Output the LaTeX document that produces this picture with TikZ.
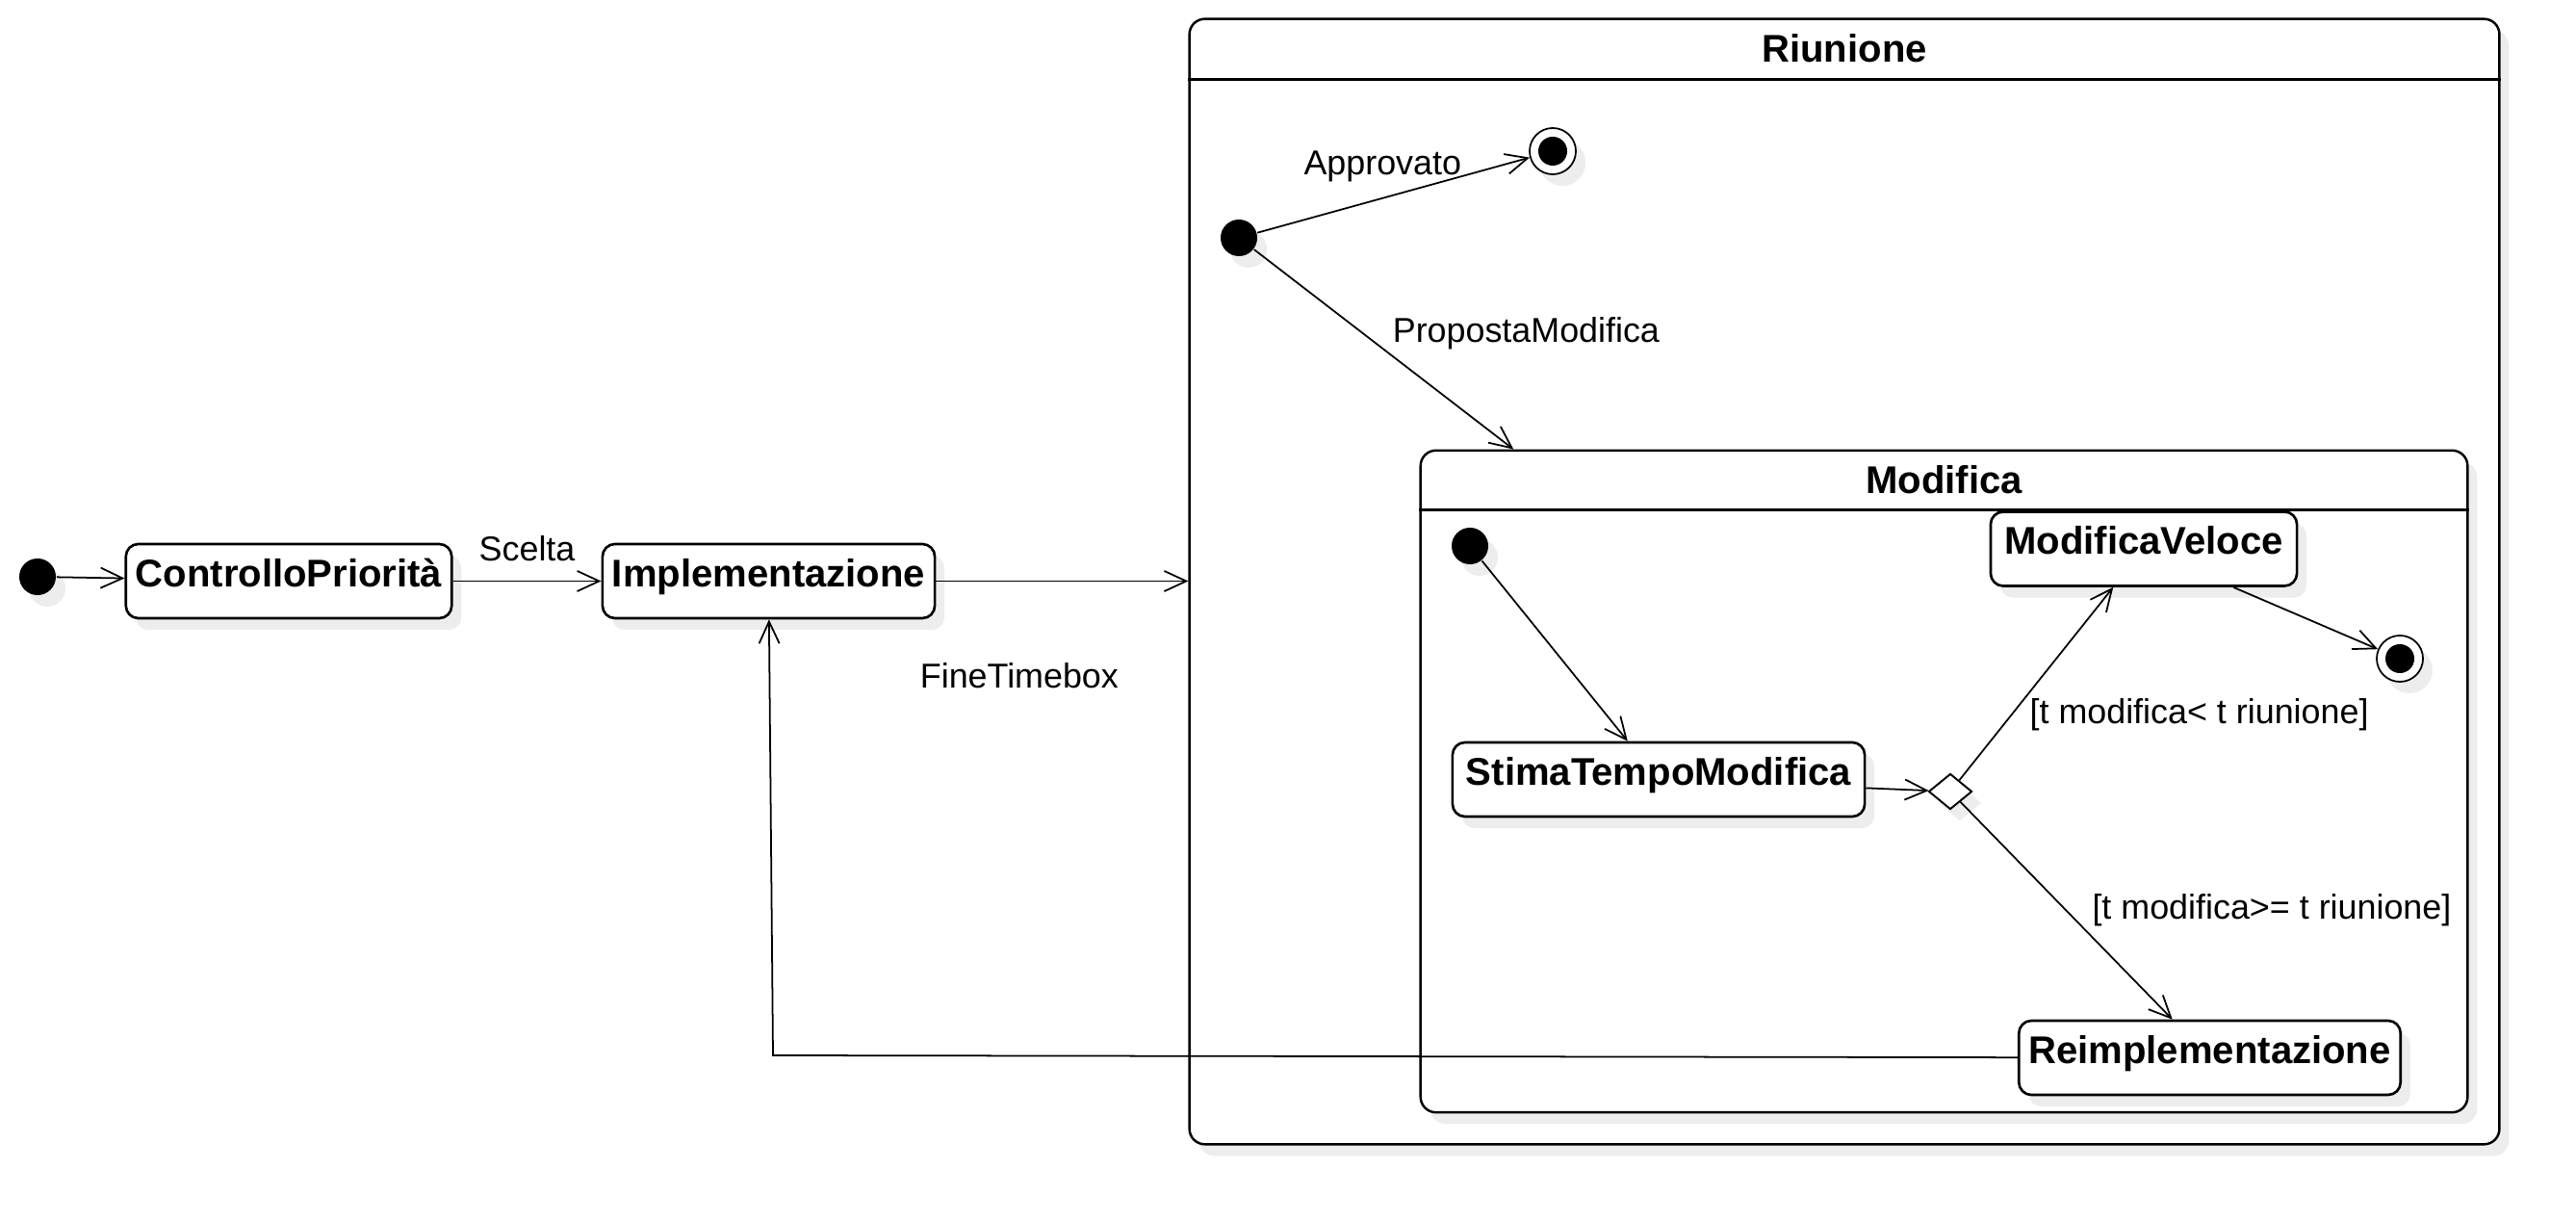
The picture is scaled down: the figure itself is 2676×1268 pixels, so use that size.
\documentclass[tikz,border=0pt]{standalone}
\usepackage{fontspec}
\setmainfont{Liberation Sans}
\usetikzlibrary{positioning,shapes.geometric,arrows.meta,shadows}

\tikzset{
  umlshadow/.style={drop shadow={shadow xshift=0.1cm, shadow yshift=-0.12cm, fill=black!7, opacity=1}},
  statebox/.style={rectangle, draw, line width=0.75pt, rounded corners=0.13cm, fill=white, umlshadow,
    minimum height=0.77cm, inner xsep=0.1cm, inner ysep=3pt, text height=9.6pt, text depth=6.2pt,
    font=\bfseries\fontsize{11.4}{13}\selectfont},
  composite/.style={rectangle, draw, line width=0.7pt, rounded corners=0.16cm, fill=white, umlshadow},
  title/.style={font=\bfseries\fontsize{11.4}{13}\selectfont, inner sep=0},
  startdot/.style={circle, fill=black, minimum size=0.38cm, inner sep=0, umlshadow},
  enddot/.style={circle, draw, line width=0.5pt, fill=white, minimum size=0.48cm, inner sep=0, umlshadow,
    path picture={\fill[black] (path picture bounding box.center) circle (0.15cm);}},
  choice/.style={diamond, draw, line width=0.55pt, fill=white, minimum width=0.45cm, minimum height=0.37cm,
    inner sep=0, umlshadow},
  lbl/.style={font=\fontsize{10.2}{12}\selectfont, inner sep=0}
}

\begin{document}
\begin{tikzpicture}[x=0.01cm, y=-0.01cm, line width=0.5pt, >={Straight Barb[length=6.5pt,width=6pt]}]
\fill[white] (0,0) rectangle (2676,1268);
\useasboundingbox (0,0) rectangle (2676,1268);

% outer states
\node[startdot] (init0) at (39,599) {};
\node[statebox, minimum width=3.38cm] (ctrl) at (300,603.5) {ControlloPriorità};
\node[statebox, minimum width=3.41cm] (impl) at (798.5,603.5) {Implementazione};

% composite Riunione
\node[composite, minimum width=13.6cm, minimum height=11.68cm] (riunione) at (1916,604) {};
\node[title] at ([yshift=-0.32cm]riunione.north) {Riunione};
\draw[line width=0.7pt] ([yshift=-0.64cm]riunione.north west) -- ([yshift=-0.64cm]riunione.north east);
\node[startdot] (init1) at (1287,247) {};
\node[enddot] (end1) at (1613,157) {};

% composite Modifica
\node[composite, minimum width=10.87cm, minimum height=6.87cm] (modifica) at (2019.5,811.5) {};
\node[title] at ([yshift=-0.315cm]modifica.north) {Modifica};
\draw[line width=0.7pt] ([yshift=-0.63cm]modifica.north west) -- ([yshift=-0.63cm]modifica.north east);
\node[startdot] (init2) at (1527,567) {};
\node[statebox, minimum width=3.18cm] (veloce) at (2227,570) {ModificaVeloce};
\node[enddot] (end2) at (2493,684) {};
\node[statebox, minimum width=4.28cm] (stima) at (1723,809.5) {StimaTempoModifica};
\node[choice] (choice) at (2026,822) {};
\node[statebox, minimum width=3.93cm] (reimpl) at (2295.5,1098.5) {Reimplementazione};
\coordinate (back) at (803,1096);

% transitions
\draw[->] (init0) -- (ctrl);
\draw[->] (ctrl) -- node[lbl, above=0.2cm] {Scelta} (impl);
\draw[->] (impl) -- node[lbl, pos=0.33, below=0.84cm] {FineTimebox} (impl -| riunione.west);
\draw[->] (init1) -- node[lbl, pos=0.46, above=0.16cm] {Approvato} (end1);
\draw[->] (init1) -- node[lbl, pos=0.42, right=0.3cm] {PropostaModifica} (modifica);
\draw[->] (init2) -- (stima);
\draw[->] (stima) -- (choice);
\draw[->] (choice) -- node[lbl, pos=0.34, right=0.18cm] {[t modifica< t riunione]} (veloce);
\draw[->] (choice) -- node[lbl, pos=0.5, right=0.26cm] {[t modifica>= t riunione]} (reimpl);
\draw[->] (veloce) -- (end2);
\draw[->] (reimpl) -- (back) -- (impl);
\end{tikzpicture}
\end{document}
